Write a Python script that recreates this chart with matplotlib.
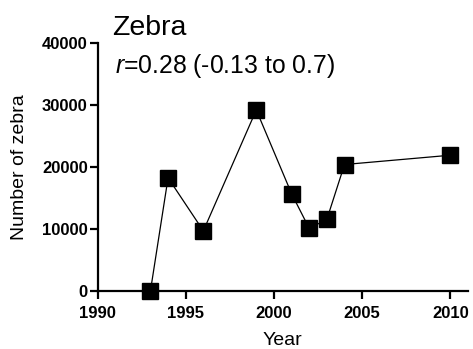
import matplotlib
matplotlib.use("Agg")
import matplotlib.pyplot as plt

# Zebra counts by survey year
years = [1993, 1994, 1996, 1999, 2001, 2002, 2003, 2004, 2010]
counts = [0, 18250, 9700, 29200, 15700, 10100, 11550, 20400, 21900]

x_ticks = [1990, 1995, 2000, 2005, 2010]
y_ticks = [0, 10000, 20000, 30000, 40000]

plt.rcParams['font.family'] = ['Liberation Sans', 'DejaVu Sans']
plt.rcParams['mathtext.fontset'] = 'custom'
plt.rcParams['mathtext.rm'] = 'Liberation Sans'
plt.rcParams['mathtext.it'] = 'Liberation Sans:italic'

W, H = 473, 349
fig = plt.figure(figsize=(W / 100, H / 100), dpi=100)

# axes box in pixel units
left, right, top, bottom = 97.5, 468, 43, 291
ax = fig.add_axes([left / W, 1 - bottom / H, (right - left) / W, (bottom - top) / H])

ax.plot(years, counts, color='black', lw=0.9, marker='s', markersize=11.5,
        markerfacecolor='black', markeredgecolor='black', clip_on=False, zorder=3)

ax.set_xlim(1990, 2011)
ax.set_ylim(0, 40000)
ax.set_xticks(x_ticks)
ax.set_yticks(y_ticks)

for side in ['top', 'right']:
    ax.spines[side].set_visible(False)
for side in ['left', 'bottom']:
    ax.spines[side].set_linewidth(1.6)

ax.tick_params(axis='both', direction='out', length=6, width=1.6, labelsize=12)
ax.tick_params(axis='y', pad=1)
ax.tick_params(axis='x', pad=5)
for lab in ax.get_xticklabels() + ax.get_yticklabels():
    lab.set_fontweight('bold')

ax.set_xlabel('Year', fontsize=14, labelpad=8)
ax.set_ylabel('Number of zebra', fontsize=14, labelpad=10)

fig.text(112 / W, 1 - 35 / H, 'Zebra', fontsize=20.5, ha='left', va='baseline')
fig.text(115 / W, 1 - 73 / H, r'$\it{r}$=0.28 (-0.13 to 0.7)', fontsize=17.8,
         ha='left', va='baseline')

fig.savefig('out.png', dpi=100)
